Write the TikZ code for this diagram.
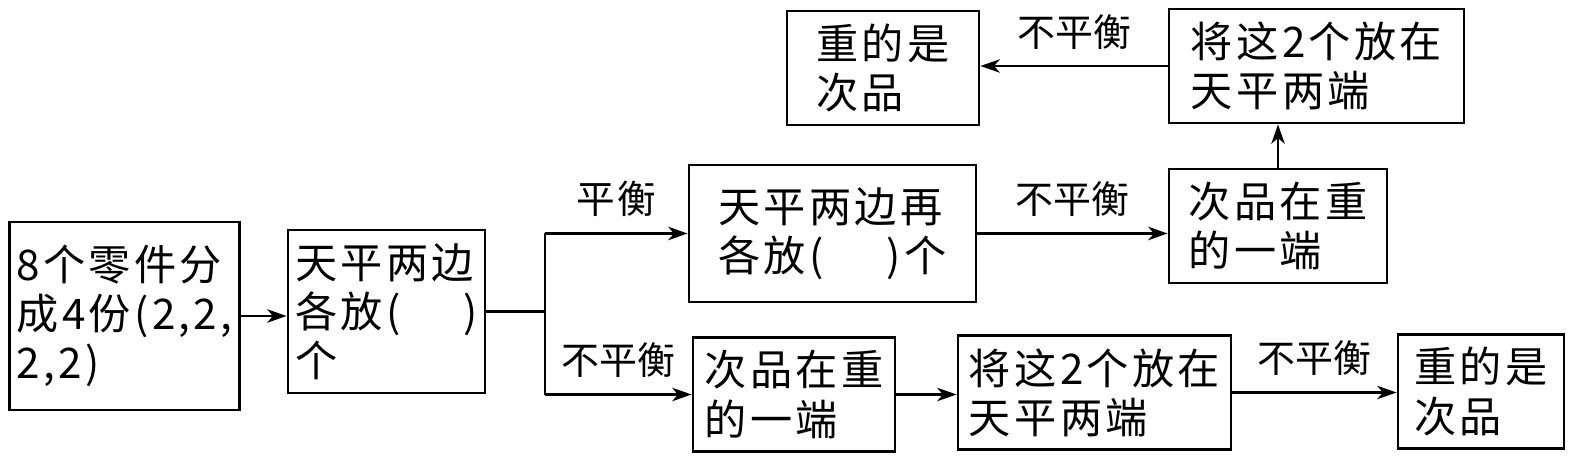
\documentclass[tikz,border=0pt]{standalone}
\usepackage{fontspec}
\setmainfont{Noto Sans CJK SC}
\newfontfamily\boxfont[LetterSpace=8]{Noto Sans CJK SC}
\usetikzlibrary{arrows.meta}
\tikzstyle{arrow} = [thick,->,>={Stealth[length=5.5pt, width=3.8pt, inset=1.6pt]}]

\begin{document}
\begin{tikzpicture}[box/.style={draw, thick, align=left, inner xsep=2pt, minimum height=1.14cm, font=\boxfont\fontsize{12}{14}\selectfont},
    lbl/.style={above=1pt, font=\fontsize{10.8}{12}\selectfont}]
    \useasboundingbox (0, 0) rectangle (15.77, 4.59);
    \node[box, minimum width=2.27cm, minimum height=1.88cm] (parts) at (1.245, 1.43) {8个零件分\\成4份(2,2,\\2,2)};
    \node[box, minimum width=1.91cm, minimum height=1.63cm] (weigh) at (3.865, 1.475) {天平两边\\各放(\hspace{1.5em})\\个};
    \node[box, minimum width=2.87cm, minimum height=1.37cm] (again) at (8.325, 2.255) {天平两边再\\各放(\hspace{1.5em})个};
    \node[box, minimum width=2.02cm] (heavyA) at (7.94, 0.645) {次品在重\\的一端};
    \node[box, minimum width=2.73cm] (pairA) at (10.945, 0.665) {将这2个放在\\天平两端};
    \node[box, minimum width=1.66cm] (faultA) at (14.81, 0.675) {重的是\\次品};
    \node[box, minimum width=2.18cm] (heavyB) at (12.78, 2.33) {次品在重\\的一端};
    \node[box, minimum width=2.95cm] (pairB) at (13.165, 3.93) {将这2个放在\\天平两端};
    \node[box, minimum width=1.92cm] (faultB) at (8.83, 3.91) {重的是\\次品};
    \coordinate (split) at (5.45, 1.475);

    \draw[arrow] (parts.east) -- (parts.east -| weigh.west);
    \draw[thick] (weigh.east) -- (split);
    \draw[thick] (split |- again.west) -- (split |- heavyA.west);
    \draw[arrow] (split |- again.west) -- (again.west) node[lbl, midway, font=\boxfont\fontsize{11}{12}\selectfont] {平衡};
    \draw[arrow] (split |- heavyA.west) -- (heavyA.west) node[lbl, midway] {不平衡};
    \draw[arrow] (again.east) -- (again.east -| heavyB.west) node[lbl, midway] {不平衡};
    \draw[arrow] (heavyB.north) -- (heavyB.north |- pairB.south);
    \draw[arrow] (pairB.west) -- (pairB.west -| faultB.east) node[lbl, midway] {不平衡};
    \draw[arrow] (heavyA.east) -- (heavyA.east -| pairA.west);
    \draw[arrow] (pairA.east) -- (pairA.east -| faultA.west) node[lbl, midway] {不平衡};
\end{tikzpicture}
\end{document}
